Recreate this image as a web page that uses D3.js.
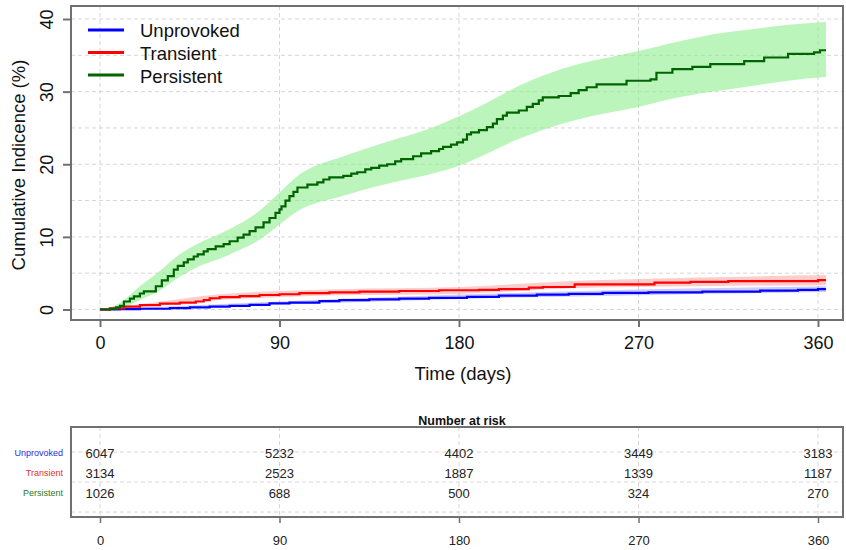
<!DOCTYPE html>
<html>
<head>
<meta charset="utf-8">
<script src="https://cdn.jsdelivr.net/npm/d3@7"></script>
<style>
  body { margin: 0; background: #fff; }
  svg { display: block; font-family: "Liberation Sans", Arial, sans-serif; }
</style>
</head>
<body>
<div id="chart"></div>
<script>
"use strict";

// groups and risk table
const groups = ["Unprovoked", "Transient", "Persistent"];
const xTicks = [0, 90, 180, 270, 360];
const yTicks = [0, 10, 20, 30, 40];
const yGrid = [0, 5, 10, 15, 20, 25, 30, 35, 40];
const riskUnprovoked = [6047, 5232, 4402, 3449, 3183];
const riskTransient = [3134, 2523, 1887, 1339, 1187];
const riskPersistent = [1026, 688, 500, 324, 270];

// cumulative incidence curves (day, %)
const persistentTime = [0, 5, 8, 10, 12, 15, 17, 20, 22, 28, 31, 34, 37, 39, 42, 44, 47, 49, 52, 54, 58, 62, 65, 69, 72, 75, 78, 82, 85, 88, 90, 91, 93, 95, 97, 99, 104, 109, 112, 115, 122, 126, 129, 133, 136, 140, 144, 148, 151, 157, 161, 166, 170, 172, 176, 179, 182, 184, 186, 190, 194, 197, 199, 202, 204, 210, 214, 217, 220, 222, 230, 236, 240, 244, 249, 264, 276, 279, 287, 297, 306, 323, 333, 345, 358, 361, 364];
const persistentCI = [0, 0.1, 0.3, 0.5, 1.1, 1.5, 1.8, 2.2, 2.5, 3.2, 4.0, 4.6, 5.5, 6.0, 6.5, 6.9, 7.3, 7.6, 8.0, 8.3, 8.7, 9.0, 9.4, 9.9, 10.3, 10.8, 11.3, 12.0, 12.6, 13.3, 13.8, 14.2, 15.0, 15.6, 16.2, 16.8, 17.2, 17.5, 17.9, 18.2, 18.4, 18.7, 18.9, 19.3, 19.5, 19.8, 20.0, 20.4, 20.7, 21.1, 21.5, 21.8, 22.1, 22.4, 22.7, 23.0, 23.4, 24.1, 24.4, 24.7, 25.1, 25.6, 26.2, 26.7, 27.1, 27.4, 27.9, 28.3, 28.8, 29.2, 29.4, 29.8, 30.2, 30.6, 31.0, 31.5, 31.7, 32.6, 33.1, 33.4, 33.8, 34.2, 34.7, 35.2, 35.4, 35.7, 35.7];

const transientTime = [0, 5, 12, 20, 30, 40, 48, 52, 55, 60, 70, 80, 90, 100, 115, 130, 150, 170, 190, 200, 215, 222, 238, 278, 296, 315, 360, 364];
const transientCI = [0, 0.15, 0.4, 0.6, 0.8, 0.95, 1.1, 1.3, 1.55, 1.7, 1.85, 2.0, 2.1, 2.25, 2.35, 2.45, 2.55, 2.65, 2.7, 2.8, 3.0, 3.1, 3.45, 3.7, 3.8, 3.9, 4.05, 4.05];

const unprovokedTime = [0, 10, 20, 35, 45, 55, 65, 75, 85, 95, 110, 120, 135, 150, 165, 184, 200, 219, 235, 252, 275, 302, 331, 350, 360, 364];
const unprovokedCI = [0, 0.05, 0.1, 0.2, 0.3, 0.4, 0.5, 0.65, 0.85, 0.95, 1.15, 1.3, 1.4, 1.5, 1.6, 1.75, 1.9, 2.05, 2.15, 2.3, 2.35, 2.45, 2.6, 2.7, 2.8, 2.8];

// confidence bands (day, lower %, upper %)
const persistentBandTime = [0, 10, 20, 30, 40, 50, 60, 70, 80, 90, 100, 110, 120, 135, 150, 165, 180, 195, 210, 225, 240, 255, 270, 285, 300, 315, 330, 345, 364];
const persistentLower = [0, 0.1, 1.3, 2.6, 4.5, 6.0, 7.0, 8.2, 9.6, 11.7, 13.7, 14.8, 15.5, 16.7, 17.7, 18.6, 19.8, 21.6, 23.5, 25.0, 26.2, 27.1, 27.9, 28.9, 29.7, 30.3, 30.9, 31.5, 32.0];
const persistentUpper = [0, 0.9, 3.2, 5.3, 7.6, 9.2, 10.4, 11.8, 13.6, 16.1, 18.6, 20.0, 20.9, 22.3, 23.6, 24.9, 26.6, 28.6, 30.8, 32.5, 33.8, 34.7, 35.6, 36.6, 37.5, 38.2, 38.7, 39.2, 39.6];

const transientBandTime = [0, 30, 60, 90, 120, 180, 240, 300, 364];
const transientLower = [0, 0.55, 1.3, 1.7, 1.95, 2.15, 2.95, 3.2, 3.35];
const transientUpper = [0, 1.05, 2.1, 2.55, 2.8, 3.1, 3.95, 4.4, 4.75];

const unprovokedBandTime = [0, 90, 180, 270, 364];
const unprovokedLower = [0, 0.7, 1.45, 1.95, 2.4];
const unprovokedUpper = [0, 1.1, 2.05, 2.75, 3.2];

const lineColors = ["#0000ff", "#ff0000", "#006400"];
const bandColors = ["rgba(0,0,255,0.2)", "rgba(255,0,0,0.2)", "rgba(144,238,144,0.6)"];
const labelColors = ["#2b2bd9", "#e03030", "#2a7a2a"];

const msm = {
    width: 846,
    height: 550,
    left: 71,
    right: 843,
    top: 6,
    bottom: 320,
    tableTop: 427,
    tableBottom: 517
};

const svg = d3.select("#chart")
    .append("svg")
    .attr("width", msm.width)
    .attr("height", msm.height);

const x = d3.scaleLinear().domain([0, 360]).range([100, 818]);
const y = d3.scaleLinear().domain([0, 40]).range([309.5, 19]);

// ---- main plot: grid ----
const grid = svg.append("g")
    .attr("stroke", "#d6d6d6")
    .attr("stroke-width", 1)
    .attr("stroke-dasharray", "4,3");
grid.selectAll(".hg").data(yGrid).enter().append("line")
    .attr("x1", msm.left).attr("x2", msm.right)
    .attr("y1", d => y(d)).attr("y2", d => y(d));
grid.selectAll(".vg").data(xTicks).enter().append("line")
    .attr("x1", d => x(d)).attr("x2", d => x(d))
    .attr("y1", msm.top).attr("y2", msm.bottom);

// ---- bands ----
const bands = [
    { t: unprovokedBandTime, lo: unprovokedLower, hi: unprovokedUpper },
    { t: transientBandTime, lo: transientLower, hi: transientUpper },
    { t: persistentBandTime, lo: persistentLower, hi: persistentUpper }
];
const area = d3.area()
    .x(d => x(d.t))
    .y0(d => y(d.lo))
    .y1(d => y(d.hi))
    .curve(d3.curveMonotoneX);
bands.forEach(function (b, i) {
    let pts = b.t.map((t, j) => ({ t: t, lo: b.lo[j], hi: b.hi[j] }));
    svg.append("path")
        .datum(pts)
        .attr("d", area)
        .attr("fill", bandColors[i]);
});

// ---- curves ----
const curves = [
    { t: unprovokedTime, v: unprovokedCI },
    { t: transientTime, v: transientCI },
    { t: persistentTime, v: persistentCI }
];
const line = d3.line()
    .x(d => x(d.t))
    .y(d => y(d.v))
    .curve(d3.curveStepAfter);
curves.forEach(function (c, i) {
    let pts = c.t.map((t, j) => ({ t: t, v: c.v[j] }));
    svg.append("path")
        .datum(pts)
        .attr("d", line)
        .attr("fill", "none")
        .attr("stroke", lineColors[i])
        .attr("stroke-width", 2.2);
});

// ---- frame and axes ----
svg.append("rect")
    .attr("x", msm.left).attr("y", msm.top)
    .attr("width", msm.right - msm.left).attr("height", msm.bottom - msm.top)
    .attr("fill", "none").attr("stroke", "#707070").attr("stroke-width", 2);

let yAxis = svg.append("g")
    .attr("transform", "translate(" + msm.left + ",0)")
    .call(d3.axisLeft(y).tickValues(yTicks).tickSize(8));
yAxis.select(".domain").remove();
yAxis.selectAll(".tick line").attr("stroke", "#707070").attr("stroke-width", 2);
yAxis.selectAll(".tick text")
    .attr("transform", "rotate(-90)")
    .attr("x", 0).attr("y", -18).attr("dy", 0)
    .attr("text-anchor", "middle")
    .attr("fill", "#111")
    .style("font-size", "18px")
    .style("font-family", "Liberation Sans, Arial, sans-serif");

let xAxis = svg.append("g")
    .attr("transform", "translate(0," + msm.bottom + ")")
    .call(d3.axisBottom(x).tickValues(xTicks).tickSize(7));
xAxis.select(".domain").remove();
xAxis.selectAll(".tick line").attr("stroke", "#707070").attr("stroke-width", 2);
xAxis.selectAll(".tick text")
    .attr("y", 29).attr("dy", 0)
    .attr("fill", "#111")
    .style("font-size", "18px")
    .style("font-family", "Liberation Sans, Arial, sans-serif");

svg.append("text")
    .attr("x", 463).attr("y", 380)
    .attr("text-anchor", "middle")
    .style("font-size", "18.5px")
    .attr("fill", "#111")
    .text("Time (days)");

svg.append("text")
    .attr("transform", "translate(25,165) rotate(-90)")
    .attr("text-anchor", "middle")
    .style("font-size", "18.5px")
    .attr("fill", "#111")
    .text("Cumulative Indicence (%)");

// ---- legend ----
const legend = svg.append("g");
legend.selectAll("line").data(groups).enter().append("line")
    .attr("x1", 88).attr("x2", 124)
    .attr("y1", (d, i) => 30 + i * 22.5).attr("y2", (d, i) => 30 + i * 22.5)
    .attr("stroke", (d, i) => lineColors[i])
    .attr("stroke-width", 3);
legend.selectAll("text").data(groups).enter().append("text")
    .attr("x", 140)
    .attr("y", (d, i) => 37 + i * 23)
    .style("font-size", "18.5px")
    .attr("fill", "#111")
    .text(d => d);

// ---- number at risk table ----
const risk = [riskUnprovoked, riskTransient, riskPersistent];
const rowY = d3.scalePoint().domain(groups).range([453, 493]);

svg.append("text")
    .attr("x", 462).attr("y", 425)
    .attr("text-anchor", "middle")
    .style("font-size", "12.5px")
    .style("font-weight", "bold")
    .attr("fill", "#111")
    .text("Number at risk");

const tgrid = svg.append("g")
    .attr("stroke", "#d6d6d6")
    .attr("stroke-width", 1)
    .attr("stroke-dasharray", "4,3");
tgrid.selectAll(".vg").data(xTicks).enter().append("line")
    .attr("x1", d => x(d)).attr("x2", d => x(d))
    .attr("y1", msm.tableTop).attr("y2", msm.tableBottom);
tgrid.selectAll(".hg").data([452, 482, 512]).enter().append("line")
    .attr("x1", msm.left).attr("x2", msm.right)
    .attr("y1", d => d).attr("y2", d => d);

svg.append("rect")
    .attr("x", msm.left).attr("y", msm.tableTop)
    .attr("width", msm.right - msm.left).attr("height", msm.tableBottom - msm.tableTop)
    .attr("fill", "none").attr("stroke", "#707070").attr("stroke-width", 2);

svg.selectAll(".rowlab").data(groups).enter().append("text")
    .attr("x", 63)
    .attr("y", d => rowY(d))
    .attr("dy", "0.35em")
    .attr("text-anchor", "end")
    .style("font-size", "9px")
    .attr("fill", (d, i) => labelColors[i])
    .text(d => d);

risk.forEach(function (row, i) {
    svg.selectAll(".risk" + i).data(row).enter().append("text")
        .attr("x", (d, j) => x(xTicks[j]))
        .attr("y", rowY(groups[i]))
        .attr("dy", "0.36em")
        .attr("text-anchor", "middle")
        .style("font-size", "13px")
        .attr("fill", "#222")
        .text(d => d);
});

let tAxis = svg.append("g")
    .attr("transform", "translate(0," + msm.tableBottom + ")")
    .call(d3.axisBottom(x).tickValues(xTicks).tickSize(6));
tAxis.select(".domain").remove();
tAxis.selectAll(".tick line").attr("stroke", "#707070").attr("stroke-width", 1.5);
tAxis.selectAll(".tick text")
    .attr("y", 28).attr("dy", 0)
    .attr("fill", "#222")
    .style("font-size", "13px")
    .style("font-family", "Liberation Sans, Arial, sans-serif");
</script>
</body>
</html>
